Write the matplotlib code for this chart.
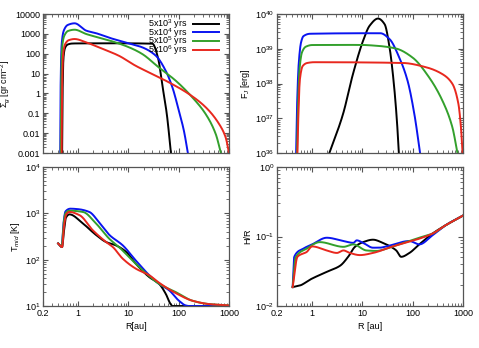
import matplotlib.pyplot as plt
import matplotlib.ticker as mticker
import numpy as np

plt.rcParams['font.family'] = ['Liberation Sans', 'DejaVu Sans']
plt.rcParams['mathtext.fontset'] = 'custom'
plt.rcParams['mathtext.rm'] = 'Liberation Sans'
plt.rcParams['mathtext.it'] = 'Liberation Sans:italic'
plt.rcParams['font.size'] = 6.5

labels = ['5x10$^3$ yrs', '5x10$^4$ yrs', '5x10$^5$ yrs', '5x10$^6$ yrs']
colors = ['black', '#0a14f0', '#33a02c', '#e8281e']

# surface density [gr cm^-2]
sig_r = [
    [0.48, 0.49, 0.51, 0.55, 0.62, 0.75, 0.93, 5, 30, 38.5, 48, 58, 70],
    [0.44, 0.45, 0.47, 0.52, 0.62, 0.85, 1.45, 2.3, 4.3, 10.3, 18.8, 35, 55, 75, 101, 127, 152],
    [0.45, 0.46, 0.48, 0.53, 0.63, 0.85, 1.45, 4.3, 10.3, 18.8, 40, 87, 187, 345, 545, 690],
    [0.47, 0.48, 0.5, 0.55, 0.65, 0.85, 1.45, 3.1, 6.4, 13.8, 29.7, 64, 160, 345, 635, 860, 1000],
]
sig_v = [
    [0.001, 1, 60, 200, 290, 325, 330, 335, 320, 66, 2, 0.09, 0.001],
    [0.001, 5, 300, 1500, 2800, 3400, 1450, 1070, 620, 330, 210, 80, 14, 2, 0.13, 0.013, 0.001],
    [0.001, 3, 200, 800, 1400, 1620, 980, 455, 210, 97, 20.6, 4.4, 0.63, 0.09, 0.009, 0.001],
    [0.001, 2, 80, 300, 480, 550, 370, 173, 80, 25, 9.5, 3.6, 0.93, 0.2, 0.029, 0.006, 0.001],
]

# jet energy [erg]
fj_r = [
    [2.2, 4.1, 6.5, 10.3, 13.9, 20.4, 27.6, 34.6, 41.6, 48.5, 53],
    [0.48, 0.5, 0.54, 0.6, 0.67, 0.91, 22.6, 34.6, 54, 79, 108, 140],
    [0.5, 0.52, 0.56, 0.63, 0.75, 1.0, 8.9, 19, 46, 99, 212, 390, 615, 775],
    [0.51, 0.53, 0.57, 0.65, 0.8, 1.1, 63, 182, 390, 615, 810, 915, 980],
]
fj_v = [
    [1e36, 1.3e37, 1.9e38, 1.7e39, 4.6e39, 7.4e39, 5.1e39, 1.1e39, 1.2e38, 8.5e36, 1e36],
    [1e36, 2e37, 3.6e38, 1.5e39, 2.3e39, 2.7e39, 2.8e39, 1.9e39, 5.6e38, 1.2e38, 1.3e37, 1e36],
    [1e36, 1.5e37, 2.5e38, 8e38, 1.15e39, 1.28e39, 1.29e39, 1.22e39, 1.02e39, 5.6e38, 1.5e38, 3.2e37, 5.5e36, 1e36],
    [1e36, 1e37, 1.3e38, 3.2e38, 3.9e38, 4.1e38, 3.9e38, 2.95e38, 1.86e38, 9.8e37, 2.6e37, 5e36, 1e36],
]

# midplane temperature [K]
tm_r = [
    [0.40, 0.48, 0.52, 0.57, 0.67, 1.25, 2.28, 3.6, 5.6, 8.9, 14, 26, 40.8, 55, 69, 75, 1000],
    [0.40, 0.47, 0.51, 0.56, 0.7, 1.0, 1.67, 2.6, 4.2, 7.7, 14, 26, 40.8, 64, 101, 137, 160, 1000],
    [0.40, 0.47, 0.51, 0.56, 0.67, 1.25, 2.28, 4.2, 6.5, 12, 26, 40.8, 87, 187, 400, 1000],
    [0.40, 0.48, 0.52, 0.58, 0.67, 1.07, 1.96, 3.6, 4.9, 7.7, 14, 26, 40.8, 87, 187, 400, 1000],
]
tm_v = [
    [224, 187, 400, 800, 950, 600, 340, 240, 204, 149, 82, 42, 30, 18.5, 11, 10, 10],
    [224, 190, 600, 1100, 1260, 1230, 1070, 645, 340, 204, 96, 46, 30, 22, 13, 10.3, 10, 10],
    [224, 190, 550, 1000, 1140, 1070, 600, 280, 187, 96, 44, 30, 20, 13, 11, 10.3],
    [224, 187, 500, 950, 1070, 910, 430, 240, 187, 105, 64, 46, 31.7, 19, 13, 11, 10.3],
]

# aspect ratio H/R
hr_r = [
    [0.41, 0.58, 0.91, 1.95, 3.6, 5.2, 7.1, 10.3, 16.2, 25.5, 37, 47, 59, 86, 135, 247, 450, 1000],
    [0.41, 0.44, 0.67, 1.0, 1.95, 4.2, 6.6, 7.7, 10.3, 16.2, 22, 30, 86, 135, 247, 450, 1000],
    [0.41, 0.47, 0.78, 1.42, 4.2, 6.6, 12, 18.8, 40, 135, 247, 450, 1000],
    [0.41, 0.51, 0.78, 1.0, 1.95, 3.1, 4.2, 5.6, 8.9, 16.2, 40, 135, 247, 450, 1000],
]
hr_v = [
    [0.0187, 0.0198, 0.024, 0.031, 0.038, 0.051, 0.071, 0.083, 0.090, 0.081, 0.071, 0.063, 0.051, 0.058, 0.077, 0.11, 0.145, 0.2],
    [0.0187, 0.051, 0.067, 0.077, 0.096, 0.086, 0.081, 0.088, 0.081, 0.069, 0.069, 0.072, 0.086, 0.077, 0.104, 0.145, 0.2],
    [0.0187, 0.050, 0.067, 0.083, 0.071, 0.077, 0.063, 0.062, 0.072, 0.096, 0.11, 0.145, 0.2],
    [0.0187, 0.051, 0.060, 0.072, 0.063, 0.058, 0.063, 0.058, 0.054, 0.058, 0.072, 0.093, 0.11, 0.145, 0.2],
]


def pchip(x, y, xn):
    # monotone cubic (Fritsch-Carlson) so curves stay smooth without overshoot
    h = np.diff(x)
    d = np.diff(y) / h
    m = np.zeros_like(y)
    for k in range(1, len(y) - 1):
        if d[k - 1] * d[k] > 0:
            w1 = 2 * h[k] + h[k - 1]
            w2 = h[k] + 2 * h[k - 1]
            m[k] = (w1 + w2) / (w1 / d[k - 1] + w2 / d[k])
    m[0], m[-1] = d[0], d[-1]
    i = np.clip(np.searchsorted(x, xn) - 1, 0, len(h) - 1)
    t = (xn - x[i]) / h[i]
    h00 = 2 * t**3 - 3 * t**2 + 1
    h10 = t**3 - 2 * t**2 + t
    h01 = -2 * t**3 + 3 * t**2
    h11 = t**3 - t**2
    return h00 * y[i] + h10 * h[i] * m[i] + h01 * y[i + 1] + h11 * h[i] * m[i + 1]


def smooth(r, v, n=600):
    lr = np.log10(r)
    lv = np.log10(v)
    x = np.linspace(lr[0], lr[-1], n)
    return 10 ** x, 10 ** pchip(lr, lv, x)


def style(ax, ylim):
    ax.set_xscale('log')
    ax.set_yscale('log')
    ax.set_xlim(0.2, 1000)
    ax.set_ylim(*ylim)
    ax.tick_params(which='both', direction='in', top=True, right=True, color='#555555', labelsize=6.5, pad=2)
    ax.tick_params(which='major', length=3.5)
    ax.tick_params(which='minor', length=2)
    for s in ax.spines.values():
        s.set_color('#555555')
        s.set_linewidth(0.9)


fig = plt.figure(figsize=(4.79, 3.48), dpi=100)
w, h = 186 / 479, 139 / 348
ax1 = fig.add_axes([43 / 479, 1 - 153 / 348, w, h])
ax2 = fig.add_axes([277 / 479, 1 - 153 / 348, w, h])
ax3 = fig.add_axes([43 / 479, 1 - 306 / 348, w, h])
ax4 = fig.add_axes([277 / 479, 1 - 306 / 348, w, h])

for i in range(4):
    ax1.plot(*smooth(sig_r[i], sig_v[i]), color=colors[i], lw=1.4, label=labels[i])
    ax2.plot(*smooth(fj_r[i], fj_v[i]), color=colors[i], lw=1.4)
    ax3.plot(*smooth(tm_r[i], tm_v[i]), color=colors[i], lw=1.4)
    ax4.plot(*smooth(hr_r[i], hr_v[i]), color=colors[i], lw=1.4)

style(ax1, (0.001, 10000))
style(ax2, (1e36, 1e40))
style(ax3, (10, 1e4))
style(ax4, (0.01, 1))

ax1.yaxis.set_major_locator(mticker.LogLocator(numticks=20))
ax1.yaxis.set_major_formatter(mticker.FuncFormatter(lambda v, p: '%g' % v))
for ax in (ax1, ax2):
    ax.xaxis.set_major_formatter(mticker.NullFormatter())
for ax in (ax3, ax4):
    ax.set_xticks([0.2, 1, 10, 100, 1000])
    ax.xaxis.set_major_formatter(mticker.FuncFormatter(lambda v, p: '%g' % v))
for ax in (ax1, ax2, ax3, ax4):
    ax.xaxis.set_minor_formatter(mticker.NullFormatter())
    ax.yaxis.set_minor_formatter(mticker.NullFormatter())

ax1.set_ylabel('$\\Sigma_g$ [gr cm$^{-2}$]', fontsize=6.5, labelpad=2)
ax2.set_ylabel('F$_J$ [erg]', fontsize=6.5, labelpad=2)
ax3.set_ylabel('T$_{mid}$ [K]', fontsize=6.5, labelpad=2)
ax4.set_ylabel('H/R', fontsize=6.5, labelpad=2)
ax3.set_xlabel('R[au]', fontsize=6.5, labelpad=3)
ax4.set_xlabel('R [au]', fontsize=6.5, labelpad=3)

ax1.legend(loc='upper right', bbox_to_anchor=(0.97, 1.01), frameon=False, markerfirst=False,
           fontsize=6.5, handlelength=2.9, labelspacing=-0.55, borderaxespad=0.1, handletextpad=0.6)

fig.savefig('out.png', dpi=100)
